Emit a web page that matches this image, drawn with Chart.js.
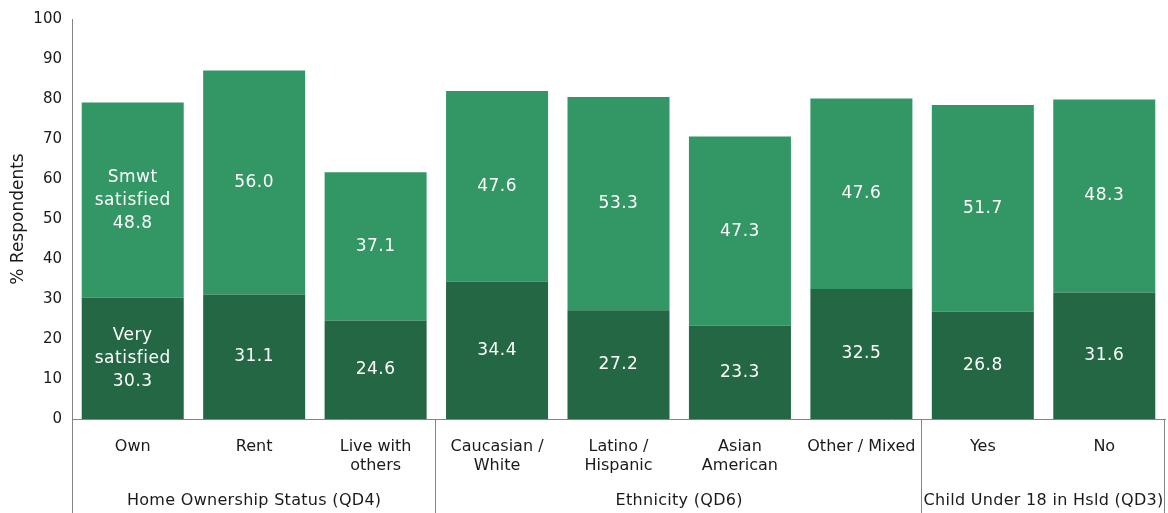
<!DOCTYPE html>
<html>
<head>
<meta charset="utf-8">
<script src="https://cdn.jsdelivr.net/npm/chart.js@4"></script>
<style>
  html, body { margin: 0; padding: 0; background: #fff; }
  #wrap { width: 1168px; height: 513px; }
</style>
</head>
<body>
<div id="wrap"><canvas id="chart"></canvas></div>
<script>
const categories = [
  ['Own'], ['Rent'], ['Live with', 'others'],
  ['Caucasian /', 'White'], ['Latino /', 'Hispanic'], ['Asian', 'American'], ['Other / Mixed'],
  ['Yes'], ['No']
];
// groups under the categories: label and how many bars each spans
const groups = [
  { label: 'Home Ownership Status (QD4)', count: 3 },
  { label: 'Ethnicity (QD6)', count: 4 },
  { label: 'Child Under 18 in Hsld (QD3)', count: 2 }
];
const verySatisfied = [30.3, 31.1, 24.6, 34.4, 27.2, 23.3, 32.5, 26.8, 31.6];
const smwtSatisfied = [48.8, 56.0, 37.1, 47.6, 53.3, 47.3, 47.6, 51.7, 48.3];
const yTicks = [0, 10, 20, 30, 40, 50, 60, 70, 80, 90, 100];

const FONT = 'DejaVu Sans';
const LINE = '#858585';
const TEXT = '#1a1a1a';

// values written inside each segment; the first bar also names its series
const segmentLabels = {
  id: 'segmentLabels',
  afterDatasetsDraw(chart) {
    const ctx = chart.ctx;
    ctx.save();
    ctx.fillStyle = '#ffffff';
    ctx.font = '17px "' + FONT + '"';
    ctx.letterSpacing = '0.5px';
    ctx.textAlign = 'center';
    ctx.textBaseline = 'middle';
    chart.data.datasets.forEach((ds, di) => {
      const meta = chart.getDatasetMeta(di);
      meta.data.forEach((bar, i) => {
        const cy = (bar.y + bar.base) / 2;
        const val = ds.data[i].toFixed(1);
        const lines = i === 0 ? ds.labelLines.concat([val]) : [val];
        const lh = 23;
        lines.forEach((t, k) => {
          ctx.fillText(t, bar.x, cy + (k - (lines.length - 1) / 2) * lh);
        });
      });
    });
    ctx.restore();
  }
};

// separators and group names below the category labels
const groupAxis = {
  id: 'groupAxis',
  afterDraw(chart) {
    const ctx = chart.ctx;
    const area = chart.chartArea;
    const step = (area.right - area.left) / categories.length;
    ctx.save();
    ctx.strokeStyle = LINE;
    ctx.lineWidth = 1;
    // y axis line runs down through the category area
    ctx.beginPath();
    ctx.moveTo(area.left + 0.5, area.top);
    ctx.lineTo(area.left + 0.5, chart.height);
    ctx.stroke();
    ctx.fillStyle = TEXT;
    ctx.font = '16px "' + FONT + '"';
    ctx.letterSpacing = '0.3px';
    ctx.textAlign = 'center';
    ctx.textBaseline = 'middle';
    let start = 0;
    groups.forEach(g => {
      const x0 = area.left + start * step;
      const x1 = area.left + (start + g.count) * step;
      ctx.beginPath();
      ctx.moveTo(Math.round(x1) - 0.5, area.bottom);
      ctx.lineTo(Math.round(x1) - 0.5, chart.height);
      ctx.stroke();
      ctx.fillText(g.label, (x0 + x1) / 2, 501);
      start += g.count;
    });
    ctx.restore();
  }
};

new Chart(document.getElementById('chart'), {
  type: 'bar',
  data: {
    labels: categories,
    datasets: [
      {
        label: 'Very satisfied',
        labelLines: ['Very', 'satisfied'],
        data: verySatisfied,
        backgroundColor: '#236744',
        borderWidth: 0,
        barPercentage: 0.84,
        categoryPercentage: 1
      },
      {
        label: 'Smwt satisfied',
        labelLines: ['Smwt', 'satisfied'],
        data: smwtSatisfied,
        backgroundColor: '#339665',
        borderWidth: 0,
        barPercentage: 0.84,
        categoryPercentage: 1
      }
    ]
  },
  options: {
    responsive: true,
    maintainAspectRatio: false,
    animation: false,
    layout: { padding: { top: 16, right: 3, left: 0, bottom: 0 } },
    plugins: {
      legend: { display: false },
      tooltip: { enabled: false }
    },
    scales: {
      x: {
        stacked: true,
        grid: { display: false, drawTicks: false },
        border: { display: true, color: LINE, width: 1 },
        ticks: {
          color: TEXT,
          font: { family: FONT, size: 16 },
          padding: 18,
          maxRotation: 0,
          autoSkip: false
        },
        afterFit(scale) { scale.height = 94; }
      },
      y: {
        stacked: true,
        min: 0,
        max: 100,
        afterBuildTicks(scale) { scale.ticks = yTicks.map(v => ({ value: v })); },
        grid: { display: false, drawTicks: false },
        border: { display: false },
        title: {
          display: true,
          text: '% Respondents',
          color: TEXT,
          font: { family: FONT, size: 17 },
          padding: { top: 8, bottom: 4 }
        },
        ticks: {
          color: TEXT,
          font: { family: FONT, size: 15 },
          padding: 10
        },
        afterFit(scale) { scale.width = 72; }
      }
    }
  },
  plugins: [segmentLabels, groupAxis]
});
</script>
</body>
</html>
